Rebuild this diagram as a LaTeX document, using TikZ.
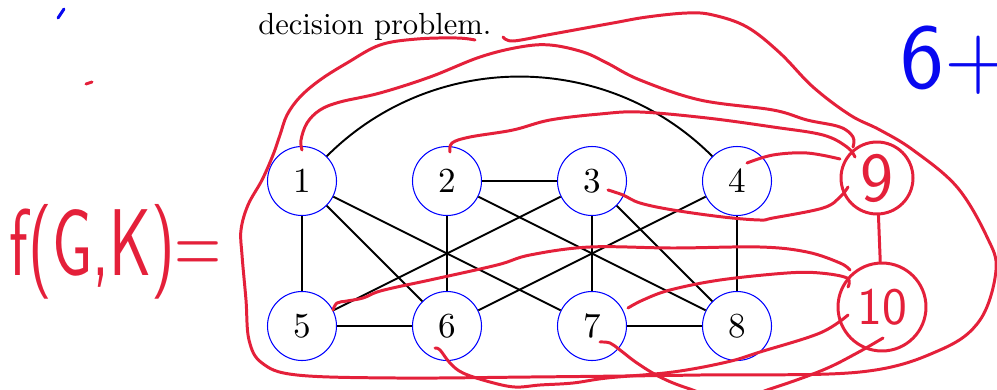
\documentclass[tikz,border=0pt]{standalone}
\usepackage{fontspec}
\usepackage{graphicx}
\usepackage{xcolor}
\usetikzlibrary{arrows.meta,positioning,calc}
\definecolor{inkred}{RGB}{228,32,58}
\definecolor{inkblue}{RGB}{8,8,240}
\begin{document}
\begin{tikzpicture}[x=0.02cm, y=-0.02cm, vtx/.style={circle, draw=blue, line width=0.6pt, minimum size=1.38cm, inner sep=0pt}, edge/.style={line width=1.1pt}, ink/.style={draw=inkred, line width=1.7pt, line cap=round, line join=round}, inkc/.style={circle, draw=inkred, line width=1.7pt, text=inkred, inner sep=0pt}]
\useasboundingbox (0,0) rectangle (997,389);
\clip (0,0) rectangle (997,389);
\node[anchor=base west, inner sep=0pt] (dp) at (258,34) {\scalebox{1.74}{decision problem.}};
\node[vtx] (n1) at (302,181) {\scalebox{2}{1}};
\node[vtx] (n2) at (447,181) {\scalebox{2}{2}};
\node[vtx] (n3) at (592,181) {\scalebox{2}{3}};
\node[vtx] (n4) at (737,181) {\scalebox{2}{4}};
\node[vtx] (n5) at (302,326) {\scalebox{2}{5}};
\node[vtx] (n6) at (447,326) {\scalebox{2}{6}};
\node[vtx] (n7) at (592,326) {\scalebox{2}{7}};
\node[vtx] (n8) at (737,326) {\scalebox{2}{8}};
\draw[edge] (n1) .. controls (433,50) and (606,50) .. (n4);
\draw[edge] (n1) -- (n5); \draw[edge] (n1) -- (n6); \draw[edge] (n1) -- (n7); \draw[edge] (n2) -- (n3); \draw[edge] (n2) -- (n6); \draw[edge] (n2) -- (n8); \draw[edge] (n3) -- (n5);
\draw[edge] (n3) -- (n7); \draw[edge] (n3) -- (n8); \draw[edge] (n4) -- (n6); \draw[edge] (n4) -- (n8); \draw[edge] (n5) -- (n6); \draw[edge] (n7) -- (n8);
\node[inkc, minimum size=1.44cm, font=\sffamily\fontsize{40}{42}\selectfont] (c9) at (877,178) {9};
\node[inkc, minimum size=1.76cm, font=\sffamily\fontsize{30}{32}\selectfont] (c10) at (882,307) {10};
\node[text=inkred, font=\sffamily\fontsize{54}{58}\selectfont] (fgk) at (116,252) {\scalebox{0.68}[1]{f(G,K)=}};
\node[anchor=base west, inner sep=0pt, text=inkblue, font=\sffamily\fontsize{53}{56}\selectfont] (six) at (900,88) {6+};
\draw[ink] plot[smooth, tension=0.6] coordinates {(475,40) (457,38) (417,39) (380,45) (347,63) (320,80) (300,97) (287,115) (280,135) (273,155) (262,180) (248,205) (241,230) (242,255) (246,300) (249,340) (262,363) (297,375) (397,378) (530,377) (700,375) (860,372) (940,350) (980,320) (996,270) (987,237) (957,187) (913,150) (880,130) (850,115) (813,87) (780,53) (747,27) (713,15) (687,13) (647,17) (613,23) (580,29) (547,35) (513,41) (503,37)};
\draw[ink] plot[smooth, tension=0.6] coordinates {(302,150) (301,140) (307,123) (320,110) (340,102) (380,93) (430,77) (480,57) (520,47) (550,45) (583,52) (607,63) (640,80) (700,100) (773,110) (807,120) (840,127) (853,137) (853,147)};
\draw[ink] plot[smooth, tension=0.6] coordinates {(450,152) (452,143) (470,137) (513,130) (550,120) (600,114) (640,112) (707,118) (773,127) (823,135) (847,147) (855,157)};
\draw[ink] plot[smooth, tension=0.6] coordinates {(747,163) (773,155) (807,153) (840,159)};
\draw[ink] plot[smooth, tension=0.6] coordinates {(608,190) (623,195) (640,203) (673,210) (723,217) (760,220) (773,218) (823,208) (840,197) (848,187)};
\draw[ink] (c9) -- (c10);
\draw[ink] plot[smooth, tension=0.6] coordinates {(333,310) (337,303) (347,301) (363,298) (377,292) (397,287) (430,280) (497,265) (530,255) (590,247) (673,248) (760,247) (807,252) (840,263) (850,270)};
\draw[ink] plot[smooth, tension=0.6] coordinates {(628,308) (643,300) (670,290) (720,280) (787,273) (820,273) (847,278) (848,287)};
\draw[ink] plot[smooth, tension=0.6] coordinates {(435,348) (440,350) (450,363) (463,373) (490,382) (515,387) (540,385) (573,383) (607,378) (673,372) (727,362) (760,352) (820,333) (848,315)};
\draw[ink] plot[smooth, tension=0.6] coordinates {(600,342) (610,343) (620,350) (637,363) (660,377) (687,388) (730,400) (773,388) (823,370) (857,353) (883,338)};
\draw[inkblue, line width=1.7pt, line cap=round] (58,18) -- (64,9);
\draw[ink] (86,84) -- (92,82);
\end{tikzpicture}
\end{document}
